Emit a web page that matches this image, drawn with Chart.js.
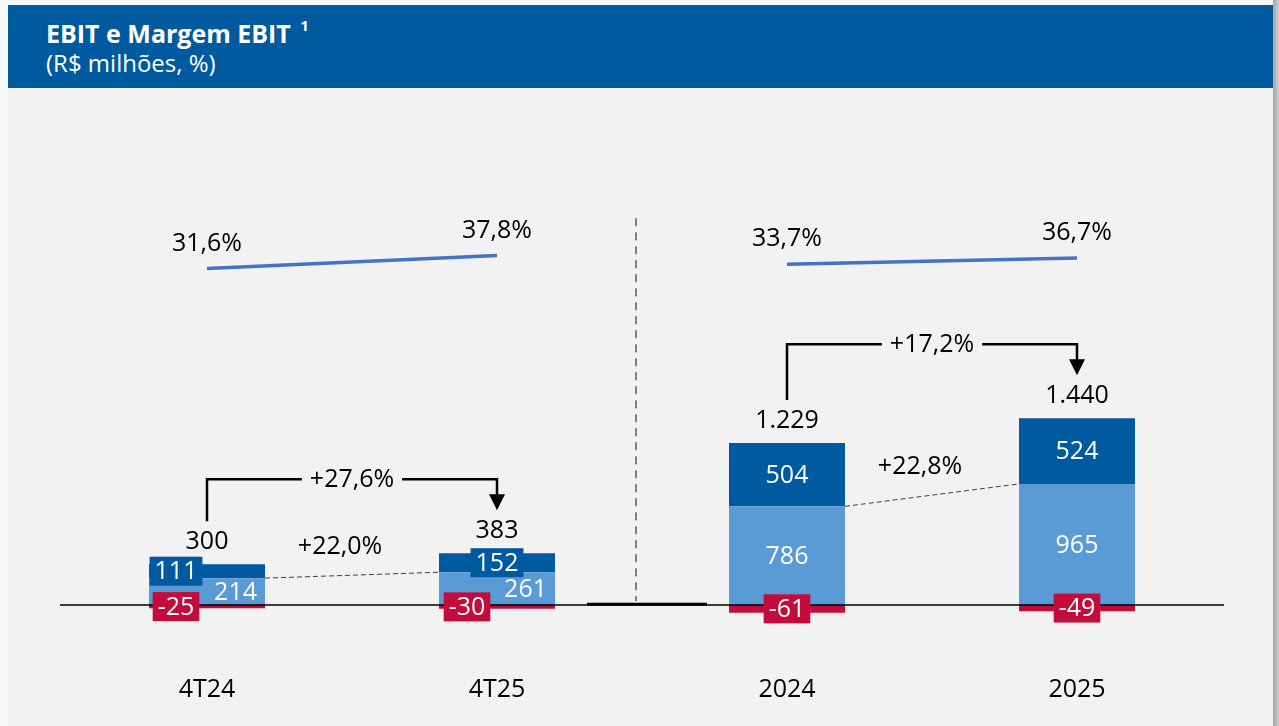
<!DOCTYPE html>
<html lang="pt-BR">
<head>
<meta charset="UTF-8">
<title>EBIT e Margem EBIT</title>
<script src="https://cdn.jsdelivr.net/npm/chart.js@4"></script>
<style>
  html, body { margin: 0; padding: 0; }
  body { width: 1279px; height: 726px; background: #f8f8f8; position: relative; overflow: hidden; font-family: 'Open Sans', sans-serif; }
  .panel { position: absolute; left: 8px; top: 5px; width: 1265px; height: 721px; background: #f2f2f2; }
  .edge { position: absolute; left: 1273px; top: 0; width: 6px; height: 726px; background: linear-gradient(to right, #a6a6a6, #cfcfcf); }
  .header { position: absolute; left: 8px; top: 5px; width: 1265px; height: 83px; background: #005a9f; color: #fff; }
  .title { position: absolute; left: 38px; top: 8px; font-weight: 700; font-size: 25px; line-height: 30px; white-space: nowrap; }
  .title sup { font-size: 15px; position: relative; top: -3px; margin-left: 3px; }
  .subtitle { position: absolute; left: 38px; top: 43px; font-size: 24px; line-height: 30px; white-space: nowrap; }
  .chart-box { position: absolute; left: 0; top: 88px; width: 1279px; height: 638px; }
</style>
</head>
<body>
  <div class="panel"></div>
  <div class="edge"></div>
  <div class="header">
    <div class="title">EBIT e Margem EBIT <sup>1</sup></div>
    <div class="subtitle">(R$ milhões, %)</div>
  </div>
  <div class="chart-box"><canvas id="ebitChart"></canvas></div>

<script>
// valores (R$ milhões, %)
const categories = ['4T24', '4T25', '2024', '2025'];
const ebitBase = [214, 261, 786, 965];     // azul claro
const ebitExtra = [111, 152, 504, 524];    // azul escuro
const ebitNeg = [-25, -30, -61, -49];      // vermelho
const marginQuarter = [31.6, 37.8, null, null];
const marginYear = [null, null, 33.7, 36.7];
const totalGrowth = ['+27,6%', '+17,2%'];
const baseGrowth = ['+22,0%', '+22,8%'];

const totals = categories.map((c, i) => ebitBase[i] + ebitExtra[i] + ebitNeg[i]);

const LIGHT = '#5b9bd5';
const DARK = '#005a9f';
const RED = '#c40c3c';
const LINE = '#4472c4';

function fmtNum(n) {
    return String(n).replace(/\B(?=(\d{3})+(?!\d))/g, '.');
}
function fmtPct(v) {
    return v.toFixed(1).replace('.', ',') + '%';
}

function boxLabel(ctx, s, cx, cy, fill) {
    const w = ctx.measureText(s).width + 10;
    ctx.fillStyle = fill;
    ctx.fillRect(cx - w / 2, cy - 14.5, w, 29);
    ctx.fillStyle = '#fff';
    ctx.fillText(s, cx, cy + 1);
}

// labels, brackets and helper lines
const overlay = {
    id: 'overlay',
    afterDatasetsDraw(chart) {
        const { ctx, chartArea, scales } = chart;
        const x = scales.x, y = scales.y, y2 = scales.y2;
        const bars = chart.getDatasetMeta(0).data;
        const zero = y.getPixelForValue(0);
        const redShift = [-31, -30, 0, 0];
        const darkShift = [-31, 0, 0, 0];

        ctx.save();
        // baseline
        ctx.strokeStyle = '#000';
        ctx.lineWidth = 1.5;
        ctx.beginPath();
        ctx.moveTo(chartArea.left - 2, zero);
        ctx.lineTo(chartArea.right + 2, zero);
        ctx.stroke();
        const mid = (x.getPixelForValue(1) + x.getPixelForValue(2)) / 2;
        ctx.lineWidth = 3;
        ctx.beginPath();
        ctx.moveTo(mid - 55, zero - 0.8);
        ctx.lineTo(mid + 65, zero - 0.8);
        ctx.stroke();

        // vertical separator
        ctx.strokeStyle = '#7f7f7f';
        ctx.lineWidth = 2;
        ctx.setLineDash([8, 6]);
        ctx.beginPath();
        ctx.moveTo(mid - 6, chartArea.top + 65);
        ctx.lineTo(mid - 6, zero - 4);
        ctx.stroke();
        ctx.setLineDash([]);

        ctx.font = "25px 'Open Sans'";
        ctx.textBaseline = 'middle';
        ctx.textAlign = 'center';

        categories.forEach((c, i) => {
            const bar = bars[i];
            const cx = bar.x;
            const right = bar.x + bar.width / 2;
            const baseTop = y.getPixelForValue(ebitBase[i]);
            const top = y.getPixelForValue(ebitBase[i] + ebitExtra[i]);
            const negBottom = y.getPixelForValue(ebitNeg[i]);

            // light segment
            ctx.fillStyle = '#fff';
            if (zero - baseTop > 45) {
                ctx.fillText(fmtNum(ebitBase[i]), cx, (zero + baseTop) / 2 + 1);
            } else {
                ctx.textAlign = 'right';
                ctx.fillText(fmtNum(ebitBase[i]), right - 8, (zero + baseTop) / 2 + 1);
                ctx.textAlign = 'center';
            }
            // dark segment
            if (baseTop - top > 45) {
                ctx.fillStyle = '#fff';
                ctx.fillText(fmtNum(ebitExtra[i]), cx, (baseTop + top) / 2 + 1);
            } else {
                boxLabel(ctx, fmtNum(ebitExtra[i]), cx + darkShift[i], (baseTop + top) / 2, DARK);
            }
            // negative segment
            boxLabel(ctx, fmtNum(ebitNeg[i]), cx + redShift[i], (zero + negBottom) / 2, RED);

            // total
            ctx.fillStyle = '#000';
            ctx.fillText(fmtNum(totals[i]), cx, top - 22);

            // margin
            const mv = i < 2 ? marginQuarter[i] : marginYear[i];
            ctx.fillText(fmtPct(mv), cx, y2.getPixelForValue(mv) - 25);
        });

        // growth brackets and dashed links
        [[0, 1], [2, 3]].forEach(([a, b], k) => {
            const ba = bars[a], bb = bars[b];
            const startY = y.getPixelForValue(ebitBase[a] + ebitExtra[a]) - 43;
            const tipY = y.getPixelForValue(ebitBase[b] + ebitExtra[b]) - 43;
            const topY = Math.min(startY, tipY) - 31;
            const mx = (ba.x + bb.x) / 2;
            const tw = ctx.measureText(totalGrowth[k]).width / 2 + 8;

            ctx.strokeStyle = '#000';
            ctx.lineWidth = 2.5;
            ctx.beginPath();
            ctx.moveTo(ba.x, startY);
            ctx.lineTo(ba.x, topY);
            ctx.lineTo(mx - tw, topY);
            ctx.moveTo(mx + tw, topY);
            ctx.lineTo(bb.x, topY);
            ctx.lineTo(bb.x, tipY - 14);
            ctx.stroke();
            ctx.fillStyle = '#000';
            ctx.beginPath();
            ctx.moveTo(bb.x - 8, tipY - 16);
            ctx.lineTo(bb.x + 8, tipY - 16);
            ctx.lineTo(bb.x, tipY);
            ctx.closePath();
            ctx.fill();
            ctx.fillText(totalGrowth[k], mx, topY + 1);

            // dashed link between light segments
            const x1 = ba.x + ba.width / 2, y1 = y.getPixelForValue(ebitBase[a]);
            const x2 = bb.x - bb.width / 2, y2p = y.getPixelForValue(ebitBase[b]);
            ctx.strokeStyle = '#404040';
            ctx.lineWidth = 1;
            ctx.setLineDash([5, 3]);
            ctx.beginPath();
            ctx.moveTo(x1, y1);
            ctx.lineTo(x2, y2p);
            ctx.stroke();
            ctx.setLineDash([]);
            ctx.fillText(baseGrowth[k], (x1 + x2) / 2 - 12, (y1 + y2p) / 2 - 28);
        });
        ctx.restore();
    }
};

Chart.defaults.font.family = "'Open Sans', sans-serif";

new Chart(document.getElementById('ebitChart'), {
    type: 'bar',
    data: {
        labels: categories,
        datasets: [
            { label: 'EBIT base', data: ebitBase, backgroundColor: LIGHT, order: 2 },
            { label: 'EBIT adicional', data: ebitExtra, backgroundColor: DARK, order: 2 },
            { label: 'Ajustes', data: ebitNeg, backgroundColor: RED, order: 2 },
            { type: 'line', label: 'Margem 4T', data: marginQuarter, yAxisID: 'y2', borderColor: LINE, borderWidth: 3.5, pointRadius: 0, order: 1 },
            { type: 'line', label: 'Margem ano', data: marginYear, yAxisID: 'y2', borderColor: LINE, borderWidth: 3.5, pointRadius: 0, order: 1 }
        ]
    },
    options: {
        responsive: true,
        maintainAspectRatio: false,
        animation: false,
        categoryPercentage: 0.4,
        barPercentage: 1.0,
        layout: { padding: { left: 62, right: 57, top: 65.2, bottom: 0 } },
        plugins: { legend: { display: false }, tooltip: { enabled: false } },
        scales: {
            x: {
                stacked: true,
                offset: true,
                grid: { display: false, drawTicks: false },
                border: { display: false },
                ticks: { font: { size: 25 }, color: '#000', padding: 20 },
                afterFit(scale) { scale.height = 70.8; }
            },
            y: { stacked: true, display: false, min: -400, max: 3600 },
            y2: { display: false, min: -152.5, max: 86.55 }
        }
    },
    plugins: [overlay]
});
</script>
</body>
</html>
